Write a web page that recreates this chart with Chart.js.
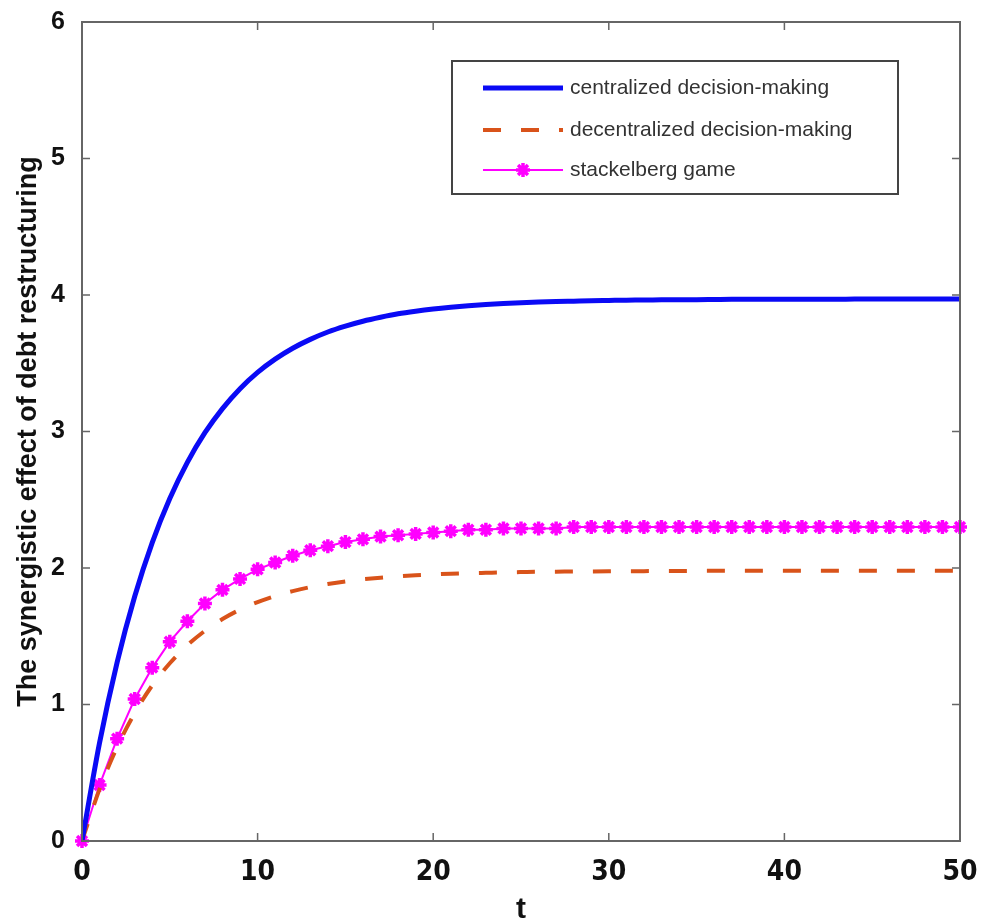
<!DOCTYPE html>
<html>
<head>
<meta charset="utf-8">
<script src="https://cdn.jsdelivr.net/npm/chart.js@4"></script>
<style>
  html, body { margin: 0; padding: 0; background: #fff; }
  #wrap { width: 988px; height: 922px; }
</style>
</head>
<body>
<div id="wrap"><canvas id="c" width="988" height="922"></canvas></div>
<script>
// time steps t = 0..50
const tValues = Array.from({ length: 51 }, (_, i) => i);

const centralized = [
  0, 0.720, 1.309, 1.791, 2.186, 2.509, 2.774, 2.991, 3.168, 3.314,
  3.433, 3.530, 3.610, 3.675, 3.729, 3.772, 3.808, 3.837, 3.862, 3.881,
  3.897, 3.910, 3.921, 3.930, 3.937, 3.943, 3.948, 3.952, 3.955, 3.958,
  3.960, 3.962, 3.963, 3.965, 3.966, 3.966, 3.967, 3.968, 3.968, 3.968,
  3.969, 3.969, 3.969, 3.969, 3.970, 3.970, 3.970, 3.970, 3.970, 3.970, 3.970
];

const decentralized = [
  0, 0.380, 0.688, 0.937, 1.140, 1.302, 1.434, 1.540, 1.626, 1.695,
  1.750, 1.795, 1.831, 1.860, 1.883, 1.902, 1.917, 1.929, 1.939, 1.947,
  1.953, 1.958, 1.962, 1.965, 1.968, 1.970, 1.972, 1.973, 1.974, 1.975,
  1.976, 1.977, 1.977, 1.978, 1.978, 1.979, 1.979, 1.979, 1.979, 1.980,
  1.980, 1.980, 1.980, 1.980, 1.980, 1.980, 1.980, 1.980, 1.980, 1.980, 1.980
];

const stackelberg = [
  0, 0.41, 0.75, 1.04, 1.27, 1.46, 1.61, 1.74, 1.84, 1.92,
  1.99, 2.04, 2.09, 2.13, 2.16, 2.19, 2.21, 2.23, 2.24, 2.25,
  2.26, 2.27, 2.28, 2.28, 2.29, 2.29, 2.29, 2.29, 2.30, 2.30,
  2.30, 2.30, 2.30, 2.30, 2.30, 2.30, 2.30, 2.30, 2.30, 2.30,
  2.30, 2.30, 2.30, 2.30, 2.30, 2.30, 2.30, 2.30, 2.30, 2.30, 2.30
];

const seriesNames = [
  'centralized decision-making',
  'decentralized decision-making',
  'stackelberg game'
];
const xTicks = [0, 10, 20, 30, 40, 50];
const yTicks = [0, 1, 2, 3, 4, 5, 6];

const toXY = arr => arr.map((v, i) => ({ x: tValues[i], y: v }));

// box around the plot area with inward tick marks on all four sides
const framePlugin = {
  id: 'frame',
  afterDatasetsDraw(chart) {
    const { ctx, chartArea: a, scales } = chart;
    ctx.save();
    ctx.strokeStyle = '#666';
    ctx.lineWidth = 2;
    ctx.strokeRect(a.left, a.top, a.right - a.left, a.bottom - a.top);
    ctx.lineWidth = 1.5;
    const L = 8;
    ctx.beginPath();
    xTicks.forEach(v => {
      const px = scales.x.getPixelForValue(v);
      ctx.moveTo(px, a.bottom); ctx.lineTo(px, a.bottom - L);
      ctx.moveTo(px, a.top); ctx.lineTo(px, a.top + L);
    });
    yTicks.forEach(v => {
      const py = scales.y.getPixelForValue(v);
      ctx.moveTo(a.left, py); ctx.lineTo(a.left + L, py);
      ctx.moveTo(a.right, py); ctx.lineTo(a.right - L, py);
    });
    ctx.stroke();
    ctx.restore();
  }
};

// boxed legend in the upper right of the plot
const boxLegendPlugin = {
  id: 'boxLegend',
  afterDraw(chart) {
    const { ctx } = chart;
    const bx = 452, by = 61, bw = 446, bh = 133;
    ctx.save();
    ctx.fillStyle = '#fff';
    ctx.fillRect(bx, by, bw, bh);
    ctx.strokeStyle = '#444';
    ctx.lineWidth = 2;
    ctx.strokeRect(bx, by, bw, bh);
    const rows = [88, 130, 170];
    const x0 = 483, x1 = 563;
    chart.data.datasets.forEach((ds, i) => {
      const y = rows[i];
      ctx.save();
      ctx.strokeStyle = ds.borderColor;
      ctx.lineWidth = ds.borderWidth;
      ctx.setLineDash(ds.borderDash || []);
      ctx.beginPath();
      ctx.moveTo(x0, y); ctx.lineTo(x1, y);
      ctx.stroke();
      ctx.restore();
      if (ds.pointRadius > 0) {
        ctx.save();
        ctx.strokeStyle = ds.pointBorderColor;
        ctx.lineWidth = ds.pointBorderWidth;
        Chart.helpers.drawPoint(ctx, { pointStyle: ds.pointStyle, radius: ds.pointRadius, borderWidth: ds.pointBorderWidth }, (x0 + x1) / 2, y);
        ctx.restore();
      }
      ctx.fillStyle = '#333';
      ctx.font = '21px "Liberation Sans", Arial, sans-serif';
      ctx.textBaseline = 'middle';
      ctx.fillText(ds.label, 570, y);
    });
    ctx.restore();
  }
};

new Chart(document.getElementById('c'), {
  type: 'line',
  data: {
    datasets: [
      {
        label: seriesNames[0],
        data: toXY(centralized),
        borderColor: '#0a0af5',
        borderWidth: 5,
        pointRadius: 0,
        cubicInterpolationMode: 'monotone',
        fill: false
      },
      {
        label: seriesNames[1],
        data: toXY(decentralized),
        borderColor: '#d9531a',
        borderWidth: 4,
        borderDash: [18, 20],
        pointRadius: 0,
        cubicInterpolationMode: 'monotone',
        fill: false
      },
      {
        label: seriesNames[2],
        data: toXY(stackelberg),
        borderColor: '#ff00ff',
        borderWidth: 2,
        pointStyle: 'star',
        pointRadius: 7,
        pointBorderWidth: 3.5,
        pointBorderColor: '#ff00ff',
        pointBackgroundColor: '#ff00ff',
        tension: 0,
        clip: false,
        fill: false
      }
    ]
  },
  options: {
    responsive: false,
    animation: false,
    events: [],
    layout: { padding: { top: 22, right: 28, left: 0, bottom: 0 } },
    plugins: { legend: { display: false }, tooltip: { enabled: false } },
    scales: {
      x: {
        type: 'linear',
        min: 0, max: 50,
        afterFit(s) { s.height = 81; s.paddingLeft = 0; s.paddingRight = 0; },
        afterBuildTicks(s) { s.ticks = xTicks.map(v => ({ value: v })); },
        grid: { display: false },
        border: { display: false },
        ticks: {
          padding: 7,
          color: '#111',
          maxRotation: 0,
          font: { family: '"DejaVu Sans Condensed", "Liberation Sans", Arial', size: 28, weight: 'bold' }
        },
        title: {
          display: true,
          text: 't',
          color: '#111',
          padding: { top: 0, bottom: -6 },
          font: { family: '"Liberation Sans", Arial', size: 30, weight: 'bold' }
        }
      },
      y: {
        type: 'linear',
        min: 0, max: 6,
        afterFit(s) { s.width = 82; s.paddingTop = 0; s.paddingBottom = 0; },
        afterBuildTicks(s) { s.ticks = yTicks.map(v => ({ value: v })); },
        grid: { display: false },
        border: { display: false },
        ticks: {
          padding: 9,
          color: '#111',
          font: { family: '"Liberation Sans", Arial', size: 25, weight: 'bold' }
        },
        title: {
          display: true,
          text: 'The synergistic effect of debt restructuring',
          color: '#111',
          padding: { top: 12, bottom: 0 },
          font: { family: '"Liberation Sans", Arial', size: 27, weight: 'bold' }
        }
      }
    }
  },
  plugins: [framePlugin, boxLegendPlugin]
});
</script>
</body>
</html>
